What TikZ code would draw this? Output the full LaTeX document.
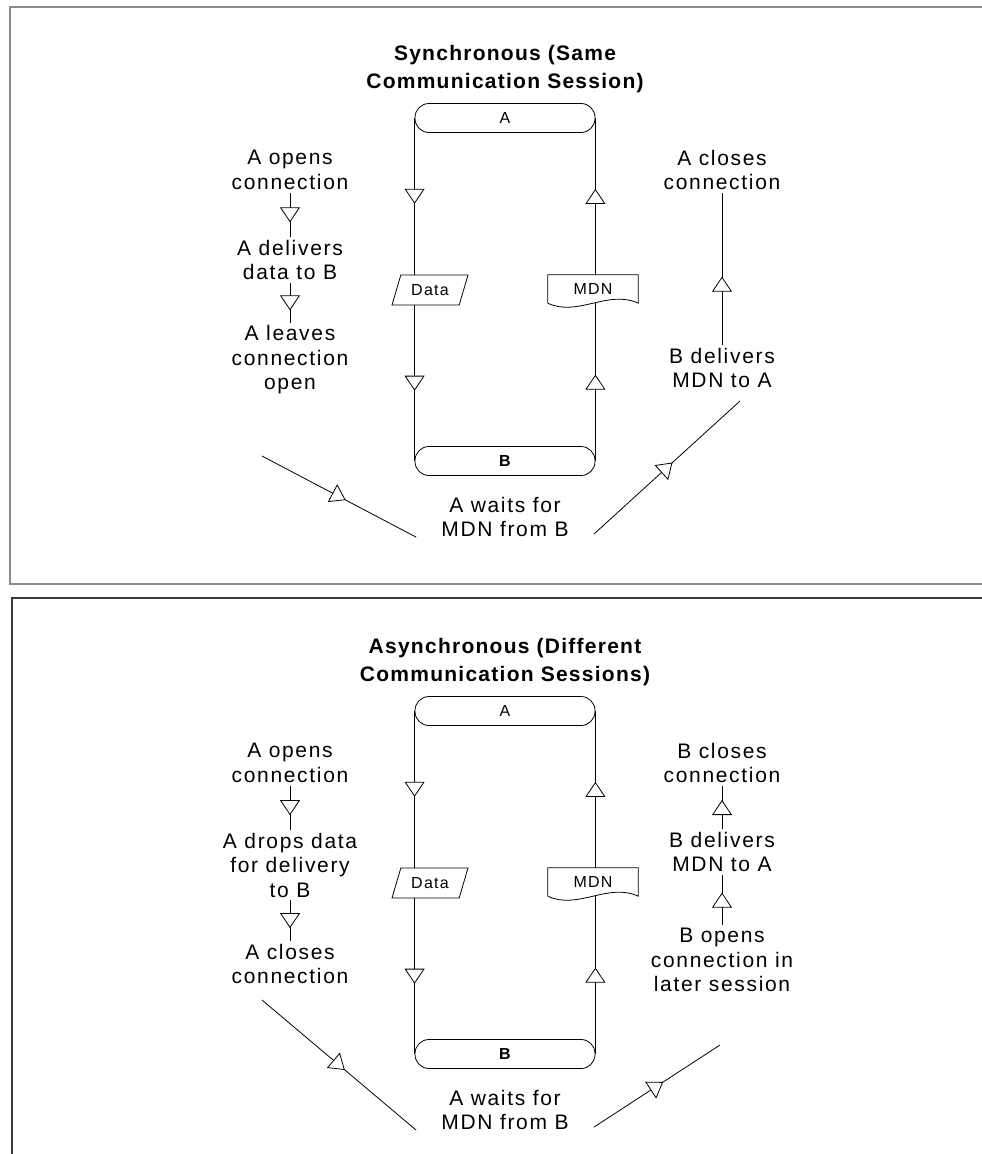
\documentclass[tikz,border=0pt]{standalone}
\usepackage{fontspec}
\setmainfont{Liberation Sans}
\newfontfamily\lblfont[LetterSpace=8]{Liberation Sans}
\newfontfamily\ttlfont[LetterSpace=6]{Liberation Sans}
\usetikzlibrary{arrows.meta,positioning,shapes.geometric,decorations.markings}
\definecolor{FrameGrey}{HTML}{8A8A8A}
\definecolor{FrameDark}{HTML}{3A3A3A}

\begin{document}
\begin{tikzpicture}[x=1pt,y=-1pt,
    lbl/.style={align=center,font=\lblfont\fontsize{21}{24.5}\selectfont,inner sep=3pt},
    ttl/.style={align=center,font=\ttlfont\fontsize{21}{28}\selectfont\bfseries},
    term/.style={draw,line width=0.8pt,rounded corners=14pt,minimum width=180pt,minimum height=29pt,inner sep=0pt,font=\lblfont\fontsize{16}{16}\selectfont},
    dat/.style={draw,line width=0.8pt,trapezium,trapezium left angle=63,trapezium right angle=117,trapezium stretches=true,minimum width=76pt,minimum height=30pt,inner sep=0pt,font=\lblfont\fontsize{16}{16}\selectfont},
    doc/.style={minimum width=90pt,minimum height=28pt,inner sep=0pt,font=\lblfont\fontsize{16}{16}\selectfont},
    flow/.style={draw,line width=0.8pt,postaction={decorate},
      decoration={markings,mark=at position #1 with {\arrow[xshift=7.5pt]{Triangle[length=15pt,width=20pt,fill=white,line width=0.8pt]}}}},
    flow/.default=0.5
  ]
  \useasboundingbox (0,0) rectangle (982,1154);
  % frames
  \draw[FrameGrey,line width=2pt] (990,7) -- (10,7) -- (10,584) -- (990,584);
  \draw[FrameDark,line width=2pt] (990,598) -- (12,598) -- (12,1160);

  % synchronous
  \node[ttl] (title1) at (505,69) {Synchronous (Same\\Communication Session)};
  \node[term] (a1) at (505,118) {A};
  \node[term,font=\lblfont\fontsize{16}{16}\selectfont\bfseries] (b1) at (505,461) {B};
  \node[dat] (data1) at (430,290) {Data};
  \node[doc] (mdn1) at (593,289) {MDN};
  \draw[line width=0.8pt] (mdn1.south west) -- (mdn1.north west) -- (mdn1.north east) -- (mdn1.south east)
    .. controls +(-30,-14) and +(30,14) .. (mdn1.south west);
  \draw[flow] (a1.west) -- (a1.west |- data1.north);
  \draw[flow] (a1.west |- data1.south) -- (b1.west);
  \draw[flow] (b1.east) -- (b1.east |- mdn1.south);
  \draw[flow] (a1.east |- mdn1.north) -- (a1.east);

  \node[lbl] (open1) at (290,170) {A opens\\connection};
  \node[lbl] (deliver1) at (290,260) {A delivers\\data to B};
  \node[lbl] (leave1) at (290,360) {A leaves\\connection\\open};
  \node[lbl] (close1) at (722,170) {A closes\\connection};
  \node[lbl] (mdnback1) at (722,368) {B delivers\\MDN to A};
  \node[lbl] (wait1) at (505,517) {A waits for\\MDN from B};
  \coordinate (in1) at (262,456);
  \coordinate (out1) at (740,401);
  \draw[flow] (open1) -- (deliver1);
  \draw[flow] (deliver1) -- (leave1);
  \draw[flow] (in1) -- ([xshift=-22pt,yshift=3pt]wait1.south west);
  \draw[flow] ([xshift=22pt,yshift=6pt]wait1.south east) -- (out1);
  \draw[flow=0.4] (mdnback1) -- (close1);

  % asynchronous
  \begin{scope}[shift={(0,593)}]
    \node[ttl] (title2) at (505,69) {Asynchronous (Different\\Communication Sessions)};
    \node[term] (a2) at (505,118) {A};
    \node[term,font=\lblfont\fontsize{16}{16}\selectfont\bfseries] (b2) at (505,461) {B};
    \node[dat] (data2) at (430,290) {Data};
    \node[doc] (mdn2) at (593,289) {MDN};
    \draw[line width=0.8pt] (mdn2.south west) -- (mdn2.north west) -- (mdn2.north east) -- (mdn2.south east)
      .. controls +(-30,-14) and +(30,14) .. (mdn2.south west);
    \draw[flow] (a2.west) -- (a2.west |- data2.north);
    \draw[flow] (a2.west |- data2.south) -- (b2.west);
    \draw[flow] (b2.east) -- (b2.east |- mdn2.south);
    \draw[flow] (a2.east |- mdn2.north) -- (a2.east);

    \node[lbl] (open2) at (290,170) {A opens\\connection};
    \node[lbl] (drop2) at (290,272) {A drops data\\for delivery\\to B};
    \node[lbl] (close2) at (290,371) {A closes\\connection};
    \node[lbl] (bclose2) at (722,170) {B closes\\connection};
    \node[lbl] (mdnback2) at (722,259) {B delivers\\MDN to A};
    \node[lbl] (bopen2) at (722,367) {B opens\\connection in\\later session};
    \node[lbl] (wait2) at (505,517) {A waits for\\MDN from B};
    \coordinate (in2) at (262,407);
    \coordinate (out2) at (720,452);
    \draw[flow] (open2) -- (drop2);
    \draw[flow] (drop2) -- (close2);
    \draw[flow] (in2) -- ([xshift=-22pt,yshift=3pt]wait2.south west);
    \draw[flow] ([xshift=22pt,yshift=6pt]wait2.south east) -- (out2);
    \draw[flow] (bopen2) -- (mdnback2);
    \draw[flow] (mdnback2) -- (bclose2);
  \end{scope}
\end{tikzpicture}
\end{document}
